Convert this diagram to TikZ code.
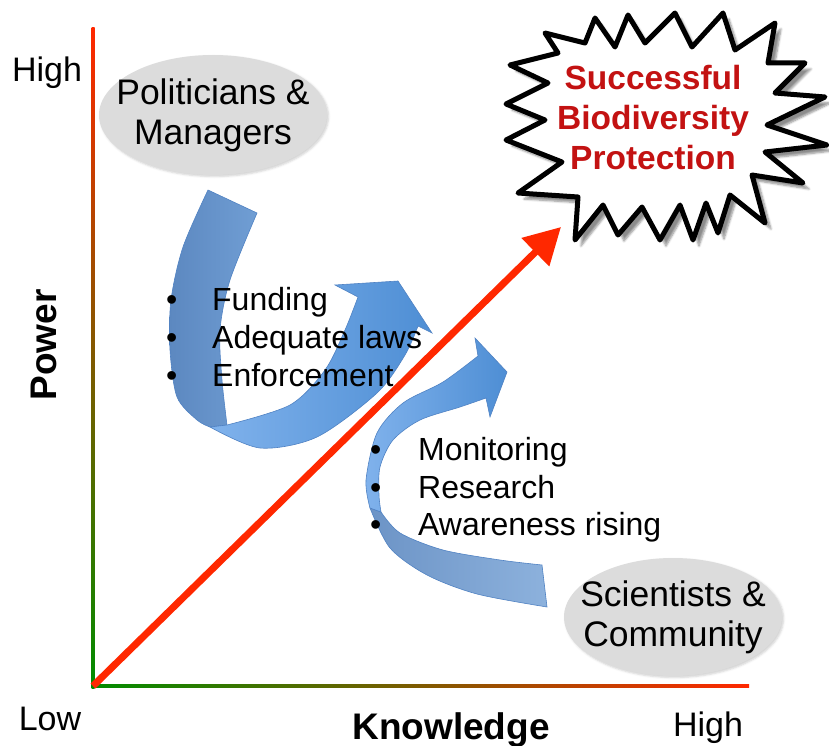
\documentclass[tikz,border=0pt]{standalone}
\usepackage{fontspec}
\setmainfont{Liberation Sans}
\usetikzlibrary{arrows.meta,shapes.geometric,shadows.blur}
\definecolor{axred}{RGB}{255,40,0}
\definecolor{axgreen}{RGB}{0,140,0}
\definecolor{ellgray}{RGB}{220,220,220}
\definecolor{startext}{RGB}{195,18,18}
\definecolor{bdark}{RGB}{92,136,192}
\definecolor{bdarkR}{RGB}{112,158,212}
\definecolor{blight}{RGB}{128,178,236}
\definecolor{blightR}{RGB}{78,142,212}
\definecolor{bedge}{RGB}{80,130,195}
\begin{document}
\begin{tikzpicture}[x=1pt,y=-1pt,
  lbl/.style={font=\fontsize{34}{40}\selectfont, inner sep=0pt},
  bold lbl/.style={font=\fontsize{37}{42}\selectfont\bfseries, inner sep=0pt},
  item/.style={font=\fontsize{32}{38}\selectfont, inner sep=0pt, anchor=base west},
  blob/.style={ellipse, fill=ellgray, inner sep=0pt,
    blur shadow={shadow xshift=1.5pt, shadow yshift=-1.5pt, shadow opacity=18}},
  blobtext/.style={font=\fontsize{35.5}{40}\selectfont, align=center, inner sep=0pt},
  ribbonA/.style={left color=bdark, right color=bdarkR, draw=bedge, line width=0.6pt},
  ribbonB/.style={left color=blight, right color=blightR, draw=bedge, line width=0.6pt},
  redarrow/.style={draw=axred, line width=7pt, -{Triangle[length=36pt,width=38pt]}},
  burst/.style={draw=black, fill=white, line width=5pt, line join=round,
    blur shadow={shadow xshift=6pt, shadow yshift=-6pt, shadow opacity=45, shadow blur steps=6}},
  goaltext/.style={font=\fontsize{33.5}{40}\selectfont\bfseries, text=startext, align=center, inner sep=0pt}
]
\useasboundingbox (0,0) rectangle (829,746);

% axes
\shade[top color=axred, bottom color=axgreen] (91.5,28) rectangle (94.5,688);
\shade[left color=axgreen, right color=axred] (93,684.5) rectangle (749,687.5);

% upper curved arrow
\shade[ribbonA] plot[smooth] coordinates {(208,190) (183,247) (171,300) (170,350) (177,397) (197,420) (210,427)}
  -- plot[smooth] coordinates {(227,425) (222,380) (220,330) (230,280) (257,213)} -- cycle;
\shade[ribbonB] plot[smooth] coordinates {(210,427) (260,448) (317,437) (377,393) (405,355) (418,326)}
  -- (432,333) -- (398,281) -- (335,285) -- (358,297)
  -- plot[smooth] coordinates {(358,297) (345,330) (325,370) (290,405) (227,425)} -- cycle;

% lower curved arrow
\shade[ribbonA, left color=bdark!90!white, right color=bdarkR!80!white] plot[smooth] coordinates {(547,607) (477,594) (427,575) (390,548) (370,508)}
  -- plot[smooth] coordinates {(381,512) (400,533) (443,550) (500,560) (542,565)} -- cycle;
\shade[ribbonB] plot[smooth] coordinates {(370,508) (366,480) (377,433) (403,403) (443,382) (478,356)}
  -- (475,338) -- (507,372) -- (490,417) -- (486,398)
  -- plot[smooth] coordinates {(486,398) (460,407) (420,420) (393,440) (380,467) (379,495) (381,512)} -- cycle;

% red diagonal arrow
\coordinate (origin) at (93,686);
\coordinate (tip) at (561,227);
\draw[redarrow] (origin) -- (tip);

% ellipses
\node[blob, minimum width=228pt, minimum height=120pt] (pol) at (213,115) {};
\node[blobtext] (poltext) at (pol.center) {Politicians \&\\Managers};
\node[blob, minimum width=218pt, minimum height=118pt] (sci) at (673,617) {};
\node[blobtext] (scitext) at (sci.center) {Scientists \&\\Community};

% starburst
\draw[burst] (675,13) -- (692,47) -- (723,13) -- (735,50) -- (775,23) -- (768,63) -- (805,63)
  -- (775,93) -- (825,97) -- (767,125) -- (827,145) -- (765,152) -- (803,183) -- (752,175)
  -- (765,223) -- (730,195) -- (718,233) -- (706,203) -- (693,240) -- (680,205) -- (660,240)
  -- (642,207) -- (618,235) -- (603,205) -- (575,240) -- (578,197) -- (518,193) -- (562,162)
  -- (506,140) -- (545,120) -- (506,104) -- (548,83) -- (510,65) -- (558,53) -- (545,33)
  -- (585,43) -- (595,18) -- (615,47) -- (628,15) -- (645,43) -- cycle;
\node[goaltext] (goal) at (653,118) {Successful\\Biodiversity\\Protection};

% bullet lists
\node[item] (b1) at (166,310) {\makebox[46pt][l]{\textbullet}Funding};
\node[item] (b2) at (166,348) {\makebox[46pt][l]{\textbullet}Adequate laws};
\node[item] (b3) at (166,386) {\makebox[46pt][l]{\textbullet}Enforcement};
\node[item] (c1) at (370,460) {\makebox[48pt][l]{\textbullet}Monitoring};
\node[item] (c2) at (370,498) {\makebox[48pt][l]{\textbullet}Research};
\node[item] (c3) at (370,535) {\makebox[48pt][l]{\textbullet}Awareness rising};

% axis labels
\node[lbl, anchor=base] (yhigh) at (47,82) {High};
\node[lbl, anchor=base] (xlow) at (50,730) {Low};
\node[lbl, anchor=base] (xhigh) at (708,736) {High};
\node[bold lbl, anchor=base] (xlab) at (451,739) {Knowledge};
\node[bold lbl, anchor=base, rotate=90] (ylab) at (56,345) {Power};
\end{tikzpicture}
\end{document}
